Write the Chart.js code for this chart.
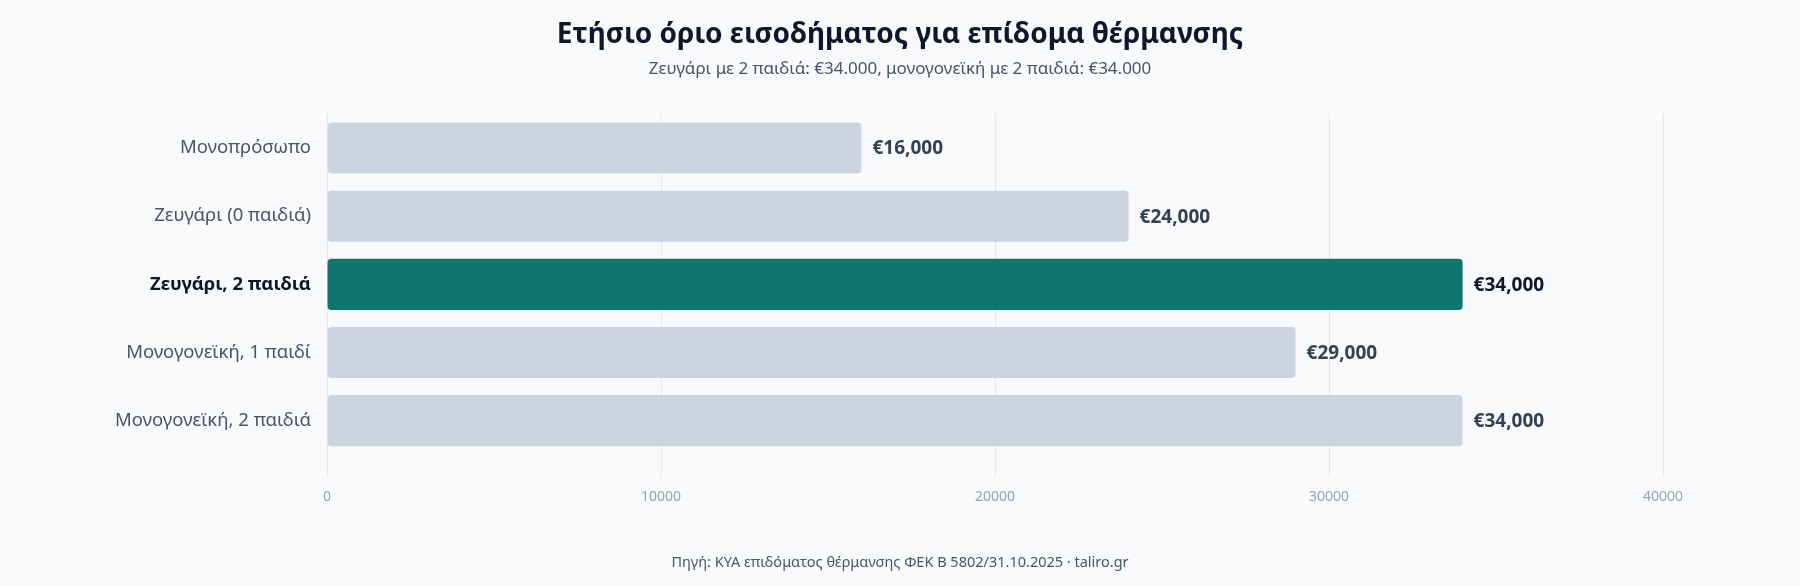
<!DOCTYPE html>
<html>
<head>
<meta charset="utf-8">
<script src="https://cdn.jsdelivr.net/npm/chart.js@4"></script>
<style>
  html, body { margin: 0; padding: 0; background: #f8fafc; }
  #wrap { position: relative; width: 1800px; height: 586px; }
  #source {
    position: absolute; left: 0; right: 0; top: 551px;
    text-align: center; font: 14.5px "Noto Sans", sans-serif; color: #475569;
  }
</style>
</head>
<body>
<div id="wrap">
  <canvas id="chart" width="1800" height="586"></canvas>
  <div id="source">Πηγή: ΚΥΑ επιδόματος θέρμανσης ΦΕΚ Β 5802/31.10.2025 · taliro.gr</div>
</div>
<script>
// household types and yearly income limit (EUR)
const categories = [
  "Μονοπρόσωπο",
  "Ζευγάρι (0 παιδιά)",
  "Ζευγάρι, 2 παιδιά",
  "Μονογονεϊκή, 1 παιδί",
  "Μονογονεϊκή, 2 παιδιά"
];
const limits = [16000, 24000, 34000, 29000, 34000];
const highlightIndex = 2;
const xTicks = [0, 10000, 20000, 30000, 40000];

const FONT = "'Noto Sans', sans-serif";

const valueLabels = {
  id: "valueLabels",
  afterDatasetsDraw(chart) {
    const ctx = chart.ctx;
    const meta = chart.getDatasetMeta(0);
    ctx.save();
    ctx.textBaseline = "middle";
    ctx.textAlign = "left";
    meta.data.forEach((bar, i) => {
      ctx.font = "bold 19px " + FONT;
      ctx.fillStyle = i === highlightIndex ? "#0f172a" : "#334155";
      ctx.fillText("€" + limits[i].toLocaleString("en-US"), bar.x + 11, bar.y + 1);
    });
    ctx.restore();
  }
};

new Chart(document.getElementById("chart"), {
  type: "bar",
  data: {
    labels: categories,
    datasets: [{
      data: limits,
      backgroundColor: limits.map((v, i) => i === highlightIndex ? "#0f766e" : "#cbd5e1"),
      borderRadius: 4,
      borderSkipped: false,
      barPercentage: 0.75,
      categoryPercentage: 1
    }]
  },
  options: {
    indexAxis: "y",
    responsive: false,
    animation: false,
    layout: {
      padding: {left: 0, right: 0, top: 0, bottom: 69.5}
    },
    plugins: {
      legend: {display: false},
      tooltip: {enabled: false},
      title: {
        display: true,
        text: "Ετήσιο όριο εισοδήματος για επίδομα θέρμανσης",
        color: "#0f172a",
        font: {family: FONT, size: 28, weight: "bold"},
        padding: {top: 18, bottom: 7}
      },
      subtitle: {
        display: true,
        text: "Ζευγάρι με 2 παιδιά: €34.000, μονογονεϊκή με 2 παιδιά: €34.000",
        color: "#475569",
        font: {family: FONT, size: 17},
        padding: {top: 0, bottom: 35}
      }
    },
    scales: {
      x: {
        min: 0,
        max: 40000,
        afterBuildTicks: (axis) => {
          axis.ticks = xTicks.map(v => ({value: v}));
        },
        grid: {color: "#e2e8f0", tickLength: 23},
        border: {display: false},
        ticks: {
          color: "#94a3b8",
          font: {family: FONT, size: 14},
          padding: 11,
          callback: (v) => String(v)
        }
      },
      y: {
        grid: {display: false, drawTicks: false},
        border: {display: false},
        afterFit: (axis) => { axis.width = 327; },
        ticks: {
          padding: 16,
          color: (c) => c.index === highlightIndex ? "#0f172a" : "#475569",
          font: (c) => ({
            family: FONT,
            size: 18.5,
            weight: c.index === highlightIndex ? "bold" : "normal"
          })
        }
      },
      // empty right-hand axis, only reserves the space right of the plot
      yRight: {
        type: "category",
        position: "right",
        labels: categories,
        grid: {display: false, drawTicks: false},
        border: {display: false},
        ticks: {display: false},
        afterFit: (axis) => { axis.width = 137; }
      }
    }
  },
  plugins: [valueLabels]
});
</script>
</body>
</html>
